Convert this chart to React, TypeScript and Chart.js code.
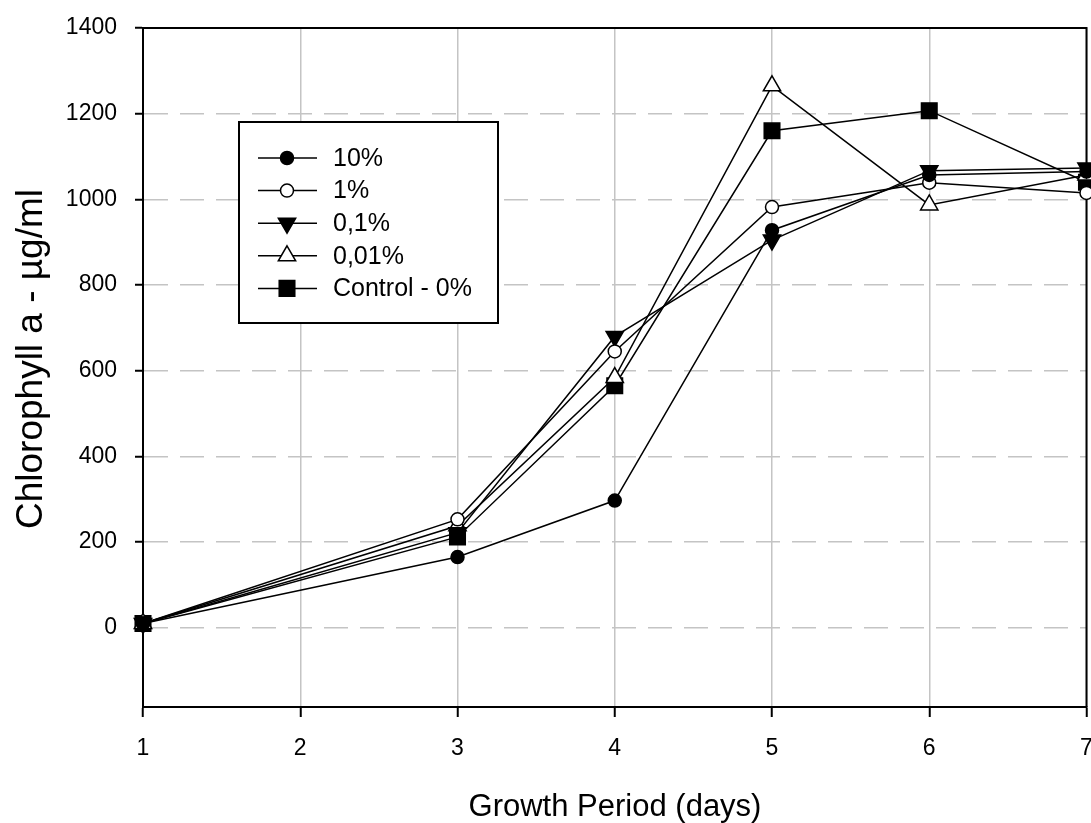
import React, { useEffect, useRef } from "react";
import { Chart, registerables } from "chart.js";

Chart.register(...registerables);

const days = [1, 3, 4, 5, 6, 7];
const xTickValues = [1, 2, 3, 4, 5, 6, 7];
const yTickValues = [0, 200, 400, 600, 800, 1000, 1200, 1400];

const s10 = [10, 165, 297, 928, 1057, 1065];
const s1 = [10, 253, 645, 982, 1039, 1015];
const s01 = [10, 222, 680, 905, 1067, 1073];
const s001 = [10, 238, 584, 1265, 987, 1057];
const sControl = [10, 212, 565, 1160, 1207, 1040];

const seriesLabels = ["10%", "1%", "0,1%", "0,01%", "Control - 0%"];
const xTitle = "Growth Period (days)";
const yTitle = "Chlorophyll a - µg/ml";

const FONT = '"Liberation Sans", Arial, sans-serif';

type MarkerDef = { style: string; rotation: number; filled: boolean; radius: number };
const markers: MarkerDef[] = [
  { style: "circle", rotation: 0, filled: true, radius: 6.5 },
  { style: "circle", rotation: 0, filled: false, radius: 6.5 },
  { style: "triangle", rotation: 180, filled: true, radius: 10 },
  { style: "triangle", rotation: 0, filled: false, radius: 10 },
  { style: "rect", rotation: 0, filled: true, radius: 11 },
];

function drawMarker(ctx: CanvasRenderingContext2D, m: MarkerDef, x: number, y: number) {
  ctx.save();
  ctx.beginPath();
  const r = m.radius;
  if (m.style === "circle") {
    ctx.arc(x, y, r, 0, Math.PI * 2);
  } else if (m.style === "rect") {
    const s = r * Math.SQRT1_2;
    ctx.rect(x - s, y - s, 2 * s, 2 * s);
  } else {
    let rad = (m.rotation * Math.PI) / 180;
    for (let i = 0; i < 3; i++) {
      const px = x + Math.sin(rad) * r;
      const py = y - Math.cos(rad) * r;
      if (i === 0) ctx.moveTo(px, py);
      else ctx.lineTo(px, py);
      rad += (2 * Math.PI) / 3;
    }
    ctx.closePath();
  }
  ctx.fillStyle = m.filled ? "#000" : "#fff";
  ctx.fill();
  ctx.lineWidth = 1.5;
  ctx.strokeStyle = "#000";
  ctx.stroke();
  ctx.restore();
}

const framePlugin = {
  id: "frame",
  beforeDatasetsDraw(chart: any) {
    const { ctx, chartArea } = chart;
    ctx.save();
    ctx.strokeStyle = "#000";
    ctx.lineWidth = 2;
    ctx.beginPath();
    ctx.moveTo(chartArea.left, chartArea.top);
    ctx.lineTo(chartArea.right, chartArea.top);
    ctx.lineTo(chartArea.right, chartArea.bottom);
    ctx.stroke();
    ctx.restore();
  },
  afterDraw(chart: any) {
    const { ctx } = chart;
    ctx.save();
    ctx.fillStyle = "#000";
    ctx.font = `31px ${FONT}`;
    ctx.textAlign = "center";
    ctx.textBaseline = "alphabetic";
    ctx.fillText(xTitle, 615, 816);
    ctx.translate(42, 359);
    ctx.rotate(-Math.PI / 2);
    ctx.font = `37px ${FONT}`;
    ctx.fillText(yTitle, 0, 0);
    ctx.restore();

    ctx.save();
    ctx.fillStyle = "#fff";
    ctx.fillRect(239, 122, 259, 201);
    ctx.strokeStyle = "#000";
    ctx.lineWidth = 2;
    ctx.strokeRect(239, 122, 259, 201);
    ctx.font = `25px ${FONT}`;
    ctx.textAlign = "left";
    ctx.textBaseline = "middle";
    chart.data.datasets.forEach((ds: any, i: number) => {
      const y = 158 + i * 32.6;
      ctx.beginPath();
      ctx.moveTo(258, y);
      ctx.lineTo(317, y);
      ctx.lineWidth = 1.5;
      ctx.strokeStyle = "#000";
      ctx.stroke();
      drawMarker(ctx, markers[i], 287, y);
      ctx.fillStyle = "#000";
      ctx.fillText(ds.label, 333, y + 1);
    });
    ctx.restore();
  },
};

export default function App() {
  const ref = useRef<HTMLCanvasElement | null>(null);
  useEffect(() => {
    if (!ref.current) return;
    const seriesValues = [s10, s1, s01, s001, sControl];
    const datasets = seriesValues.map((vals, i) => ({
      label: seriesLabels[i],
      data: days.map((d, j) => ({ x: d, y: vals[j] })),
      borderColor: "#000",
      borderWidth: 1.5,
      backgroundColor: markers[i].filled ? "#000" : "#fff",
      pointBackgroundColor: markers[i].filled ? "#000" : "#fff",
      pointBorderColor: "#000",
      pointBorderWidth: 1.5,
      pointStyle: markers[i].style,
      pointRotation: markers[i].rotation,
      pointRadius: markers[i].radius,
      pointHoverRadius: markers[i].radius,
      tension: 0,
      fill: false,
      clip: false as any,
    }));
    const chart = new Chart(ref.current, {
      type: "line",
      data: { datasets },
      options: {
        responsive: false,
        animation: false,
        devicePixelRatio: 1,
        layout: { padding: { top: 28, right: 0, left: 0, bottom: 0 } },
        plugins: { legend: { display: false }, tooltip: { enabled: false } },
        scales: {
          x: {
            type: "linear",
            min: 1,
            max: 7,
            afterBuildTicks: (scale: any) => {
              scale.ticks = xTickValues.map((v) => ({ value: v }));
            },
            afterFit: (scale: any) => {
              scale.height = 116;
              scale.paddingLeft = 0;
              scale.paddingRight = 0;
            },
            grid: {
              color: "#c4c4c4",
              lineWidth: 1.5,
              tickColor: "#000",
              tickLength: 10,
              tickWidth: 2,
            },
            border: { color: "#000", width: 2 },
            ticks: {
              color: "#000",
              font: { family: FONT, size: 23 },
              padding: 18,
              maxRotation: 0,
              autoSkip: false,
              callback: (v: any) => String(v),
            },
          },
          y: {
            type: "linear",
            min: -185,
            max: 1400,
            afterBuildTicks: (scale: any) => {
              scale.ticks = yTickValues.map((v) => ({ value: v }));
            },
            afterFit: (scale: any) => {
              scale.width = 143;
              scale.paddingTop = 0;
              scale.paddingBottom = 0;
            },
            grid: {
              color: "#c4c4c4",
              lineWidth: 1.5,
              tickColor: "#000",
              tickLength: 8,
              tickWidth: 2,
            },
            border: { color: "#000", width: 2, dash: [24, 12] },
            ticks: {
              color: "#000",
              font: { family: FONT, size: 23 },
              padding: 18,
              autoSkip: false,
              callback: (v: any) => String(v),
            },
          },
        },
      },
      plugins: [framePlugin],
    });
    return () => chart.destroy();
  }, []);
  return (
    <div
      style={{
        position: "fixed",
        left: 0,
        top: 0,
        width: 1091,
        height: 823,
        overflow: "hidden",
        background: "#fff",
      }}
    >
      <canvas ref={ref} width={1099} height={823} style={{ display: "block" }} />
    </div>
  );
}
